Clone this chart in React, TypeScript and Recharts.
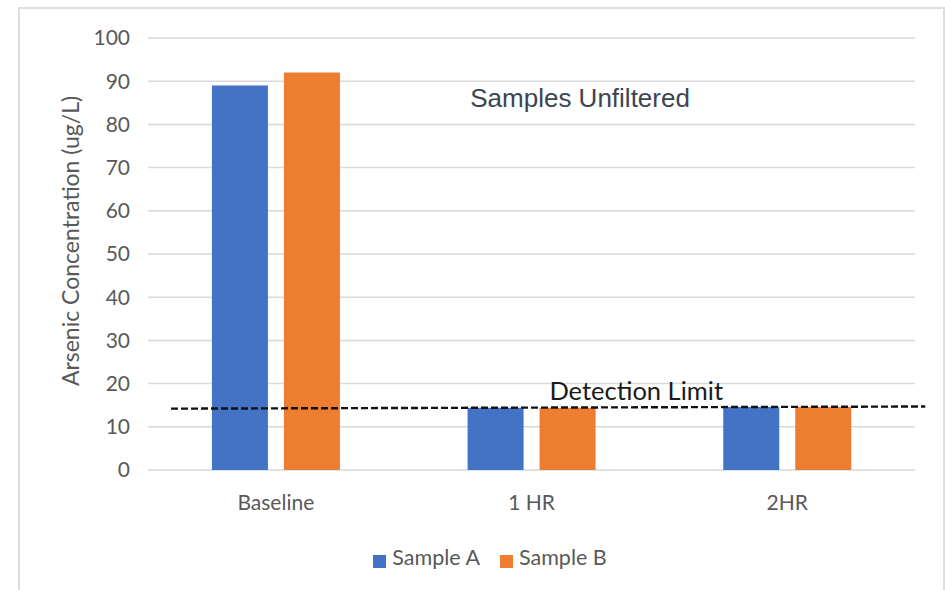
import React from 'react';
import {
  BarChart,
  Bar,
  XAxis,
  YAxis,
  CartesianGrid,
  Legend,
  ReferenceLine,
  ReferenceDot,
  Label
} from 'recharts';

// categories and values
const categories = ['Baseline', '1 HR', '2HR'];
const sampleA = [89, 14.4, 14.6];
const sampleB = [92, 14.4, 14.6];
const yTicks = [0, 10, 20, 30, 40, 50, 60, 70, 80, 90, 100];

// dashed detection limit line, on a hidden 0..3 axis (one unit per category)
const detectionX = [0.09, 3.04];
const detectionY = [14.2, 14.7];
// text notes: [x on the hidden axis, y value]
const detectionNote = [1.57, 18.3];
const unfilteredNote = [1.69, 86.2];

const data = categories.map((name, i) => ({
  name,
  a: sampleA[i],
  b: sampleB[i]
}));

const GRAY = '#595959';
const FONT = 'Lato, "Open Sans", sans-serif';

export default function App() {
  return (
    <div style={{ position: 'absolute', left: 0, top: 0, width: 945, height: 590, overflow: 'hidden', background: '#fff' }}>
      {/* chart frame */}
      <div
        style={{
          position: 'absolute',
          left: 18,
          top: 7,
          width: 927,
          height: 620,
          boxSizing: 'border-box',
          border: '2px solid #dedede'
        }}
      />
      <div style={{ position: 'absolute', left: 18, top: 7 }}>
        <BarChart
          width={926}
          height={583}
          data={data}
          margin={{ top: 31, right: 29, left: 0, bottom: 80 }}
          barCategoryGap="25%"
          barGap={16}
        >
          <CartesianGrid vertical={false} stroke="#d9d9d9" strokeWidth={1.5} />
          <XAxis
            dataKey="name"
            axisLine={false}
            tickLine={false}
            height={40}
            tickMargin={19}
            tick={{ fill: GRAY, fontSize: 21, fontFamily: FONT }}
          />
          {/* a dataKey that does not exist, so the domain prop is used as is */}
          <XAxis
            xAxisId="num"
            dataKey="pos"
            type="number"
            domain={[0, 3]}
            allowDataOverflow
            hide
          />
          <YAxis
            width={130}
            domain={[0, 100]}
            ticks={yTicks}
            interval={0}
            axisLine={false}
            tickLine={false}
            tickMargin={12}
            tick={{ fill: GRAY, fontSize: 21, fontFamily: FONT }}
          >
            <Label
              content={({ viewBox }: any) => {
                const cx = viewBox.x + 52;
                const cy = viewBox.y + viewBox.height / 2 - 13;
                return (
                  <text
                    x={cx}
                    y={cy}
                    transform={`rotate(-90 ${cx} ${cy})`}
                    textAnchor="middle"
                    dominantBaseline="central"
                    fill={GRAY}
                    fontSize={23}
                    fontFamily={FONT}
                  >
                    Arsenic Concentration (ug/L)
                  </text>
                );
              }}
            />
          </YAxis>
          <Legend
            layout="horizontal"
            verticalAlign="middle"
            align="center"
            iconType="square"
            iconSize={13}
            wrapperStyle={{ top: 537, left: 24, width: 916 }}
            formatter={(value: string) => (
              <span style={{ color: GRAY, fontSize: 21.5, fontFamily: FONT, marginLeft: 2, marginRight: 10 }}>{value}</span>
            )}
          />
          <Bar dataKey="a" name="Sample A" fill="#4472C4" isAnimationActive={false} />
          <Bar dataKey="b" name="Sample B" fill="#ED7D31" isAnimationActive={false} />
          <ReferenceLine
            xAxisId="num"
            segment={[
              { x: detectionX[0], y: detectionY[0] },
              { x: detectionX[1], y: detectionY[1] }
            ]}
            stroke="#111"
            strokeWidth={2.4}
            strokeDasharray="7 3"
            ifOverflow="visible"
          />
          <ReferenceDot
            xAxisId="num"
            x={detectionNote[0]}
            y={detectionNote[1]}
            r={0}
            stroke="none"
            fill="none"
            ifOverflow="visible"
          >
            <Label
              value="Detection Limit"
              position="right"
              offset={0}
              fill="#1a1a1a"
              fontSize={25.5}
              fontFamily={FONT}
            />
          </ReferenceDot>
          <ReferenceDot
            xAxisId="num"
            x={unfilteredNote[0]}
            y={unfilteredNote[1]}
            r={0}
            stroke="none"
            fill="none"
            ifOverflow="visible"
          >
            <Label
              value="Samples Unfiltered"
              position="center"
              fill="#3b4552"
              fontSize={26}
              fontFamily='"Liberation Sans", Arial, sans-serif'
            />
          </ReferenceDot>
        </BarChart>
      </div>
    </div>
  );
}
